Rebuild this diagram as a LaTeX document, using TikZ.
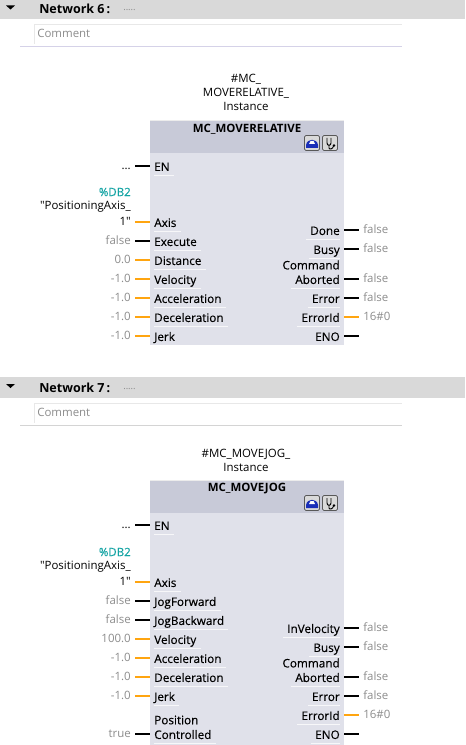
\documentclass[tikz,border=0pt]{standalone}
\usepackage{fontspec}
\setmainfont{Open Sans}
\newfontfamily\pinfont[FakeBold=0.35]{Open Sans}
\usetikzlibrary{arrows.meta, positioning, calc}
\definecolor{sband}{HTML}{D9D9D9}
\definecolor{sblockhead}{HTML}{C8CAD8}
\definecolor{sblock}{HTML}{E0E1EA}
\definecolor{sorangewire}{HTML}{FFA510}
\definecolor{sgrayval}{HTML}{8C8C8C}
\definecolor{steal}{HTML}{12A3A3}
\definecolor{sdivide}{HTML}{D5D2E8}
\definecolor{sdividegray}{HTML}{D4D4D4}
\definecolor{sframe}{HTML}{E8E8E8}
\definecolor{siconblue}{HTML}{1A2FB8}
\tikzset{
  font=\fontsize{8.6pt}{10.5pt}\selectfont,
  band/.style={fill=sband, draw=none},
  netlab/.style={anchor=west, inner sep=0pt, font=\fontsize{9.4pt}{11pt}\selectfont\bfseries},
  dots/.style={anchor=west, inner sep=0pt, text=sgrayval, font=\fontsize{7pt}{8pt}\selectfont},
  commentlab/.style={anchor=west, inner sep=0pt, text=sgrayval},
  instlab/.style={align=center, inner sep=0pt},
  headlab/.style={inner sep=0pt, font=\fontsize{8.6pt}{10pt}\selectfont\bfseries},
  pinin/.style={anchor=west, inner xsep=3pt, inner ysep=0pt, text height=9pt, text depth=1.6pt,
    font=\fontsize{8.8pt}{10pt}\pinfont,
    append after command={([xshift=3pt,yshift=-1.6pt]\tikzlastnode.south west) edge[under] ([yshift=-1.6pt]\tikzlastnode.south east)}},
  pinout/.style={anchor=east, inner xsep=3pt, inner ysep=0pt, text height=9pt, text depth=1.6pt,
    font=\fontsize{8.8pt}{10pt}\pinfont,
    append after command={([yshift=-1.6pt]\tikzlastnode.south west) edge[under] ([xshift=-3pt,yshift=-1.6pt]\tikzlastnode.south east)}},
  val/.style={anchor=east, inner xsep=3pt, inner ysep=0pt, text height=7pt, text depth=1.6pt, text=sgrayval},
  valout/.style={val, anchor=west},
  dblab/.style={anchor=east, inner sep=0pt, text=steal, font=\fontsize{8.6pt}{10pt}\pinfont},
  namelab/.style={anchor=east, inner sep=0pt},
  extra/.style={inner sep=0pt, font=\fontsize{8.8pt}{10pt}\pinfont},
  wire/.style={line width=1.5pt, draw=black},
  owire/.style={line width=1.5pt, draw=sorangewire},
  under/.style={draw=white, line width=0.6pt, opacity=0.75},
  btn/.style={fill=sband, draw=gray!70!black, line width=0.5pt, rounded corners=1pt},
  dbparam/.pic={
    \draw[btn] (-7.5,-7.5) rectangle (7.5,7.5);
    \fill[siconblue] (-6,5) -- (-6,2) .. controls (-5,-5) and (5,-5) .. (6,2) -- (6,5) -- cycle;
    \fill[white] (-3,1) -- (3,1) -- (1.5,-2) -- (-1.5,-2) -- cycle;
  },
  scopebtn/.pic={
    \draw[btn] (-7.5,-7.5) rectangle (7.5,7.5);
    \draw[line width=0.7pt] (-3,-5) -- (-3,0) .. controls (-3,3) and (1,3) .. (1,0) -- (1,-5);
    \draw[line width=0.7pt] (-1,2) -- (-1,5) .. controls (-1,6.5) and (3,6.5) .. (3.5,3);
    \fill (4,2.5) circle (1.3);
  }
}
\begin{document}
\begin{tikzpicture}[x=0.75pt, y=-0.75pt]
  \useasboundingbox (0,0) rectangle (465,745);
  % Network 6 header
  \fill[band] (0,0) rectangle (465,19);
  \fill (6,5.5) -- (15,5.5) -- (10.5,9.5) -- cycle;
  \node[netlab] (net6) at (39,9) {Network 6\,:};
  \node[dots] (dots6) at (123,10) {.....};
  \draw[sframe] (402,24.5) -- (34.5,24.5) -- (34.5,44);
  \node[commentlab] (com6) at (37,33) {Comment};
  \draw[sdivide] (20,46) -- (402,46);

  % MC_MOVERELATIVE block
  \node[instlab] (inst6) at (246,92) {\#MC\_\\MOVERELATIVE\_\\Instance};
  \fill[sblock] (150,120) rectangle (344,345);
  \fill[sblockhead] (150,120) rectangle (344,153);
  \draw[white!85!gray] (150,120) -- (344,120);
  \node[headlab] (head6) at (247,129) {MC\_MOVERELATIVE};
  \pic at (312,143) {dbparam};
  \pic at (330,143) {scopebtn};

  \node[pinin] (en6) at (150,166) {EN};
  \node[val,text=black] (enval6) at (135,166) {...};
  \draw[wire] (enval6) -- (en6);

  \node[dblab] (db6) at (131,192) {\%DB2};
  \node[namelab] (axname6) at (131,207) {\textquotedbl PositioningAxis\_};
  \node[pinin] (axis6) at (150,222) {Axis};
  \node[val,text=black] (axval6) at (135,222) {1\textquotedbl};
  \draw[owire] (axval6) -- (axis6);
  \node[pinin] (exec6) at (150,241) {Execute};
  \node[val] (execval6) at (135,241) {false};
  \draw[wire] (execval6) -- (exec6);
  \node[pinin] (dist6) at (150,260) {Distance};
  \node[val] (distval6) at (135,260) {0.0};
  \draw[owire] (distval6) -- (dist6);
  \node[pinin] (vel6) at (150,279) {Velocity};
  \node[val] (velval6) at (135,279) {-1.0};
  \draw[owire] (velval6) -- (vel6);
  \node[pinin] (acc6) at (150,298) {Acceleration};
  \node[val] (accval6) at (135,298) {-1.0};
  \draw[owire] (accval6) -- (acc6);
  \node[pinin] (dec6) at (150,317) {Deceleration};
  \node[val] (decval6) at (135,317) {-1.0};
  \draw[owire] (decval6) -- (dec6);
  \node[pinin] (jerk6) at (150,336) {Jerk};
  \node[val] (jerkval6) at (135,336) {-1.0};
  \draw[owire] (jerkval6) -- (jerk6);

  \node[pinout] (done6) at (344,230) {Done};
  \node[valout] (doneval6) at (359,230) {false};
  \draw[wire] (done6) -- (doneval6);
  \node[pinout] (busy6) at (344,249) {Busy};
  \node[valout] (busyval6) at (359,249) {false};
  \draw[wire] (busy6) -- (busyval6);
  \node[extra,anchor=east] (cmd6) at (340,265) {Command};
  \node[pinout] (abort6) at (344,279) {Aborted};
  \node[valout] (abortval6) at (359,279) {false};
  \draw[wire] (abort6) -- (abortval6);
  \node[pinout] (err6) at (344,298) {Error};
  \node[valout] (errval6) at (359,298) {false};
  \draw[wire] (err6) -- (errval6);
  \node[pinout] (errid6) at (344,317) {ErrorId};
  \node[valout] (erridval6) at (359,317) {16\#0};
  \draw[owire] (errid6) -- (erridval6);
  \node[pinout] (eno6) at (344,336) {ENO};
  \coordinate (enoend6) at (359,336);
  \draw[wire] (eno6) -- (enoend6);

  % Network 7 header
  \fill[band] (0,377) rectangle (465,398);
  \fill (6,384) -- (15,384) -- (10.5,388) -- cycle;
  \node[netlab] (net7) at (39,388) {Network 7\,:};
  \node[dots] (dots7) at (123,389) {.....};
  \draw[sframe] (402,403.5) -- (34.5,403.5) -- (34.5,423);
  \node[commentlab] (com7) at (37,412) {Comment};
  \draw[sdividegray] (20,425) -- (402,425);

  % MC_MOVEJOG block
  \node[instlab] (inst7) at (246,460) {\#MC\_MOVEJOG\_\\Instance};
  \fill[sblock] (150,480) rectangle (344,745);
  \fill[sblockhead] (150,480) rectangle (344,513);
  \draw[white!85!gray] (150,480) -- (344,480);
  \node[headlab] (head7) at (247,489) {MC\_MOVEJOG};
  \pic at (312,503) {dbparam};
  \pic at (330,503) {scopebtn};

  \node[pinin] (en7) at (150,525) {EN};
  \node[val,text=black] (enval7) at (135,525) {...};
  \draw[wire] (enval7) -- (en7);

  \node[dblab] (db7) at (131,552) {\%DB2};
  \node[namelab] (axname7) at (131,567) {\textquotedbl PositioningAxis\_};
  \node[pinin] (axis7) at (150,582) {Axis};
  \node[val,text=black] (axval7) at (135,582) {1\textquotedbl};
  \draw[owire] (axval7) -- (axis7);
  \node[pinin] (jogf7) at (150,601) {JogForward};
  \node[val] (jogfval7) at (135,601) {false};
  \draw[wire] (jogfval7) -- (jogf7);
  \node[pinin] (jogb7) at (150,620) {JogBackward};
  \node[val] (jogbval7) at (135,620) {false};
  \draw[wire] (jogbval7) -- (jogb7);
  \node[pinin] (vel7) at (150,639) {Velocity};
  \node[val] (velval7) at (135,639) {100.0};
  \draw[owire] (velval7) -- (vel7);
  \node[pinin] (acc7) at (150,658) {Acceleration};
  \node[val] (accval7) at (135,658) {-1.0};
  \draw[owire] (accval7) -- (acc7);
  \node[pinin] (dec7) at (150,677) {Deceleration};
  \node[val] (decval7) at (135,677) {-1.0};
  \draw[owire] (decval7) -- (dec7);
  \node[pinin] (jerk7) at (150,696) {Jerk};
  \node[val] (jerkval7) at (135,696) {-1.0};
  \draw[owire] (jerkval7) -- (jerk7);
  \node[extra,anchor=west] (pos7) at (154,720) {Position};
  \node[pinin] (ctrl7) at (150,734) {Controlled};
  \node[val] (ctrlval7) at (135,734) {true};
  \draw[wire] (ctrlval7) -- (ctrl7);

  \node[pinout] (invel7) at (344,628) {InVelocity};
  \node[valout] (invelval7) at (359,628) {false};
  \draw[wire] (invel7) -- (invelval7);
  \node[pinout] (busy7) at (344,647) {Busy};
  \node[valout] (busyval7) at (359,647) {false};
  \draw[wire] (busy7) -- (busyval7);
  \node[extra,anchor=east] (cmd7) at (340,663) {Command};
  \node[pinout] (abort7) at (344,677) {Aborted};
  \node[valout] (abortval7) at (359,677) {false};
  \draw[wire] (abort7) -- (abortval7);
  \node[pinout] (err7) at (344,696) {Error};
  \node[valout] (errval7) at (359,696) {false};
  \draw[wire] (err7) -- (errval7);
  \node[pinout] (errid7) at (344,715) {ErrorId};
  \node[valout] (erridval7) at (359,715) {16\#0};
  \draw[owire] (errid7) -- (erridval7);
  \node[pinout] (eno7) at (344,734) {ENO};
  \coordinate (enoend7) at (359,734);
  \draw[wire] (eno7) -- (enoend7);
\end{tikzpicture}
\end{document}
